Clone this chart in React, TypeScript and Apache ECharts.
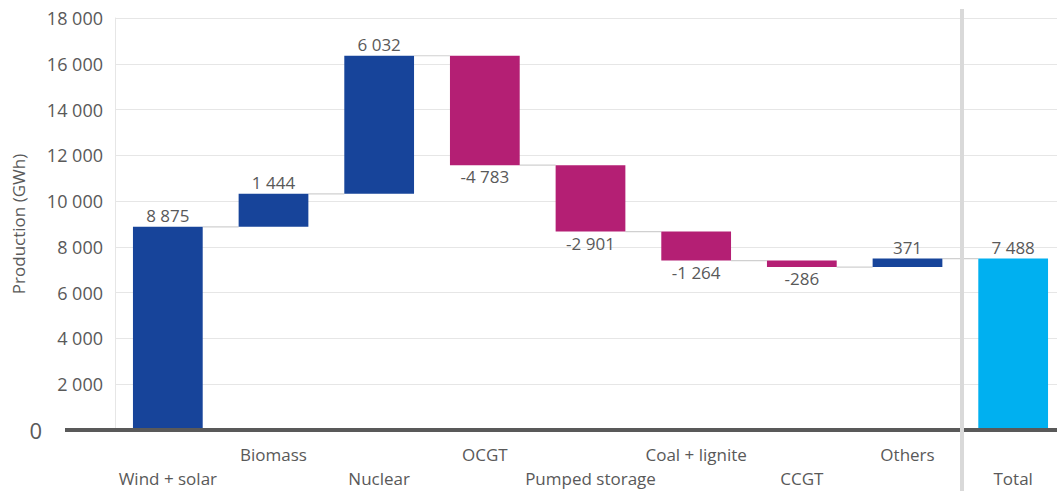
import React, { useEffect, useRef } from "react";
import * as echarts from "echarts";

const categories = [
  "Wind + solar",
  "Biomass",
  "Nuclear",
  "OCGT",
  "Pumped storage",
  "Coal + lignite",
  "CCGT",
  "Others",
  "Total",
];
const deltas = [8875, 1444, 6032, -4783, -2901, -1264, -286, 371];
const totalValue = 7488;
const yTicks = { min: 0, max: 18000, interval: 2000 };

const BLUE = "#17449A";
const MAGENTA = "#B41F74";
const CYAN = "#00B0F0";
const TEXT = "#595959";
const FONT = "'Open Sans', 'Noto Sans', sans-serif";

function fmt(n: number): string {
  const s = Math.abs(n).toString().replace(/\B(?=(\d{3})+(?!\d))/g, " ");
  return (n < 0 ? "-" : "") + s;
}

export default function App() {
  const ref = useRef<HTMLDivElement>(null);

  useEffect(() => {
    if (!ref.current) return;
    const chart = echarts.init(ref.current, null, { renderer: "svg" });

    const cum: number[] = [];
    let acc = 0;
    deltas.forEach((d) => {
      acc += d;
      cum.push(acc);
    });
    const baseData: number[] = [];
    const barData: any[] = [];
    let prev = 0;
    deltas.forEach((d) => {
      const end = prev + d;
      baseData.push(Math.min(prev, end));
      barData.push({
        value: Math.abs(d),
        itemStyle: { color: d >= 0 ? BLUE : MAGENTA },
        label: { position: d >= 0 ? "top" : "bottom" },
      });
      prev = end;
    });
    baseData.push(0);
    barData.push({
      value: totalValue,
      itemStyle: { color: CYAN },
      label: { position: "top" },
    });
    const labelValues = [...deltas, totalValue];
    const connectorData = cum.map((v, i) => [i, v]);

    chart.setOption({
      animation: false,
      grid: {
        left: 115,
        right: -9,
        top: 18,
        bottom: 61,
        containLabel: false,
        outerBoundsMode: "none",
      },
      xAxis: {
        type: "category",
        data: categories,
        axisLine: { show: false },
        axisTick: { show: false },
        splitLine: { show: false },
        axisLabel: {
          interval: 0,
          margin: 12,
          color: TEXT,
          fontSize: 17,
          fontFamily: FONT,
          lineHeight: 24,
          formatter: (v: string, i: number) => (i % 2 === 0 ? "\n" + v : v),
        },
      },
      yAxis: {
        type: "value",
        min: yTicks.min,
        max: yTicks.max,
        interval: yTicks.interval,
        name: "Production (GWh)",
        nameLocation: "middle",
        nameRotate: 90,
        nameGap: 88,
        nameMoveOverlap: false,
        nameTextStyle: { color: TEXT, fontSize: 17, fontFamily: FONT },
        axisLine: { show: true, lineStyle: { color: "#e6e6e6", width: 1 } },
        axisTick: { show: false },
        splitLine: { lineStyle: { color: "#e6e6e6", width: 1 } },
        axisLabel: {
          margin: 12,
          color: TEXT,
          fontSize: 18,
          fontFamily: FONT,
          formatter: (v: number) => (v === 0 ? "{z|0}" : fmt(v)),
          rich: {
            z: {
              color: TEXT,
              fontSize: 22,
              fontFamily: FONT,
              padding: [0, 61, 0, 0],
            },
          },
        },
      },
      series: [
        {
          type: "bar",
          stack: "w",
          barWidth: "66%",
          data: baseData,
          itemStyle: { color: "transparent" },
          emphasis: { disabled: true },
          silent: true,
          z: 2,
        },
        {
          type: "bar",
          stack: "w",
          barWidth: "66%",
          data: barData,
          z: 3,
          label: {
            show: true,
            color: TEXT,
            fontSize: 17,
            fontFamily: FONT,
            distance: 3,
            formatter: (p: any) => fmt(labelValues[p.dataIndex]),
          },
        },
        {
          type: "custom",
          z: 1,
          silent: true,
          data: connectorData,
          renderItem: (params: any, api: any) => {
            const idx = api.value(0);
            const val = api.value(1);
            const p = api.coord([idx, val]);
            const bw = api.size([1, 0])[0];
            const half = bw * 0.33;
            return {
              type: "line",
              shape: { x1: p[0] + half, y1: p[1], x2: p[0] + bw - half, y2: p[1] },
              style: { stroke: "#d0d0d0", lineWidth: 1.2 },
            };
          },
        },
      ],
      graphic: [
        {
          type: "rect",
          shape: { x: 65, y: 428, width: 1000, height: 4 },
          style: { fill: "#595959" },
          z: 10,
        },
        {
          type: "rect",
          shape: { x: 960, y: 9, width: 4, height: 482 },
          style: { fill: "#d9d9d9" },
          z: 11,
        },
      ],
    });

    return () => chart.dispose();
  }, []);

  return (
    <div
      ref={ref}
      style={{ position: "absolute", left: 0, top: 0, width: 1057, height: 491, background: "#fff" }}
    />
  );
}
